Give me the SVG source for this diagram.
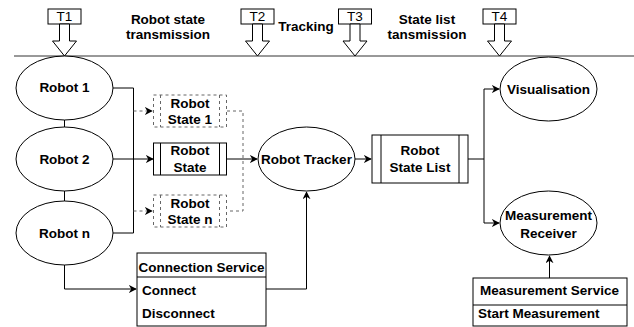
<svg xmlns="http://www.w3.org/2000/svg" width="634" height="327" viewBox="0 0 634 327">
  <defs>
    <marker id="arrow" viewBox="0 0 10 10" refX="9" refY="5" markerWidth="8" markerHeight="8" markerUnits="userSpaceOnUse" orient="auto">
      <path d="M0,0 L10,5 L0,10 L3,5 Z" fill="#000"/>
    </marker>
    <marker id="arrow-dash" viewBox="0 0 10 10" refX="9" refY="5" markerWidth="8" markerHeight="8" markerUnits="userSpaceOnUse" orient="auto">
      <path d="M0,0 L10,5 L0,10 L3,5 Z" fill="#000"/>
    </marker>
  </defs>
  <style>
    text { font-family: "Liberation Sans", Arial, sans-serif; font-size: 13.5px; fill: #000; }
    .b { font-weight: bold; }
    .c { text-anchor: middle; }
    .shape { fill: #fff; stroke: #000; stroke-width: 1; }
    .dash { fill: #fff; stroke: #666; stroke-width: 1; stroke-dasharray: 3 3; }
    .line { fill: none; stroke: #000; stroke-width: 1; }
    .dline { fill: none; stroke: #666; stroke-width: 1; stroke-dasharray: 3 3; }
    .tick { fill: #fff; stroke: #000; stroke-width: 1; }
  </style>

  <!-- timeline -->
  <g id="timeline">
    <line x1="14" y1="56" x2="634" y2="56" stroke="#333" stroke-width="1"/>
    <text class="b c" x="168" y="24">Robot state</text>
    <text class="b c" x="168" y="39">transmission</text>
    <text class="b c" x="306" y="31">Tracking</text>
    <text class="b c" x="427" y="24">State list</text>
    <text class="b c" x="427" y="39">tansmission</text>
  </g>

  <g id="t1">
    <rect class="tick" x="48" y="9" width="33" height="15"/>
    <text class="c" x="64.5" y="21">T1</text>
    <path class="tick" d="M59.5,24 V41 H52.5 L64.5,56 L76.5,41 H69.5 V24 Z"/>
  </g>
  <g id="t2">
    <rect class="tick" x="241" y="9" width="33" height="15"/>
    <text class="c" x="257.5" y="21">T2</text>
    <path class="tick" d="M252.5,24 V41 H245.5 L257.5,56 L269.5,41 H262.5 V24 Z"/>
  </g>
  <g id="t3">
    <rect class="tick" x="338.5" y="9" width="33" height="15"/>
    <text class="c" x="355" y="21">T3</text>
    <path class="tick" d="M350,24 V41 H343 L355,56 L367,41 H360 V24 Z"/>
  </g>
  <g id="t4">
    <rect class="tick" x="483" y="9" width="33" height="15"/>
    <text class="c" x="499.5" y="21">T4</text>
    <path class="tick" d="M494.5,24 V41 H487.5 L499.5,56 L511.5,41 H504.5 V24 Z"/>
  </g>

  <!-- connectors -->
  <g id="connectors">
    <line class="line" x1="64.5" y1="120" x2="64.5" y2="127"/>
    <line class="line" x1="64.5" y1="191" x2="64.5" y2="201"/>
    <polyline class="line" points="113,88 133.5,88 133.5,233 113,233"/>
    <line class="line" x1="113" y1="159" x2="153" y2="159" marker-end="url(#arrow)"/>
    <line class="dline" x1="133.5" y1="111" x2="152" y2="111" marker-end="url(#arrow-dash)"/>
    <line class="dline" x1="133.5" y1="211" x2="152" y2="211" marker-end="url(#arrow-dash)"/>
    <polyline class="dline" points="227,111 243,111 243,211 227,211"/>
    <line class="line" x1="227" y1="159" x2="257" y2="159" marker-end="url(#arrow)"/>
    <line class="line" x1="355" y1="159" x2="371" y2="159" marker-end="url(#arrow)"/>
    <polyline class="line" points="64.5,265 64.5,289 136,289" marker-end="url(#arrow)"/>
    <polyline class="line" points="266,289 306.5,289 306.5,192" marker-end="url(#arrow)"/>
    <polyline class="line" points="468,159 484,159 484,89 499,89" marker-end="url(#arrow)"/>
    <polyline class="line" points="484,159 484,223 499,223" marker-end="url(#arrow)"/>
    <line class="line" x1="549.5" y1="278" x2="549.5" y2="256" marker-end="url(#arrow)"/>
  </g>

  <!-- robots -->
  <g id="robot-1">
    <ellipse class="shape" cx="64.5" cy="88" rx="48.5" ry="32"/>
    <text class="b c" x="64.5" y="92">Robot 1</text>
  </g>
  <g id="robot-2">
    <ellipse class="shape" cx="64.5" cy="159" rx="48.5" ry="32"/>
    <text class="b c" x="64.5" y="163.5">Robot 2</text>
  </g>
  <g id="robot-n">
    <ellipse class="shape" cx="64.5" cy="233" rx="48.5" ry="32"/>
    <text class="b c" x="64.5" y="237.5">Robot n</text>
  </g>

  <!-- robot state messages -->
  <g id="robot-state-1">
    <rect class="dash" x="153.5" y="95" width="73" height="32"/>
    <line class="dline" x1="160.5" y1="95" x2="160.5" y2="127"/>
    <line class="dline" x1="219.5" y1="95" x2="219.5" y2="127"/>
    <text class="b c" x="190" y="107.5">Robot</text>
    <text class="b c" x="190" y="124">State 1</text>
  </g>
  <g id="robot-state">
    <rect class="shape" x="153.5" y="143" width="73" height="32"/>
    <line class="line" x1="160.5" y1="143" x2="160.5" y2="175"/>
    <line class="line" x1="219.5" y1="143" x2="219.5" y2="175"/>
    <text class="b c" x="190" y="155">Robot</text>
    <text class="b c" x="190" y="172">State</text>
  </g>
  <g id="robot-state-n">
    <rect class="dash" x="153.5" y="195" width="73" height="32"/>
    <line class="dline" x1="160.5" y1="195" x2="160.5" y2="227"/>
    <line class="dline" x1="219.5" y1="195" x2="219.5" y2="227"/>
    <text class="b c" x="190" y="207.5">Robot</text>
    <text class="b c" x="190" y="224">State n</text>
  </g>

  <g id="robot-tracker">
    <ellipse class="shape" cx="306.5" cy="159" rx="48.5" ry="32"/>
    <text class="b c" x="306.5" y="164">Robot Tracker</text>
  </g>

  <g id="robot-state-list">
    <rect class="shape" x="372" y="135" width="96" height="48"/>
    <line class="line" x1="381" y1="135" x2="381" y2="183"/>
    <line class="line" x1="459" y1="135" x2="459" y2="183"/>
    <text class="b c" x="420" y="155">Robot</text>
    <text class="b c" x="420" y="172">State List</text>
  </g>

  <g id="visualisation">
    <ellipse class="shape" cx="548.5" cy="89" rx="48.5" ry="32"/>
    <text class="b c" x="548.5" y="93.5">Visualisation</text>
  </g>

  <g id="measurement-receiver">
    <ellipse class="shape" cx="548.5" cy="223" rx="48.5" ry="32"/>
    <text class="b c" x="548.5" y="220">Measurement</text>
    <text class="b c" x="548.5" y="237.5">Receiver</text>
  </g>

  <g id="connection-service">
    <rect class="shape" x="137" y="253" width="129" height="73"/>
    <line class="line" x1="137" y1="277" x2="266" y2="277"/>
    <text class="b c" x="201.5" y="271.5">Connection Service</text>
    <text class="b" x="142" y="295">Connect</text>
    <text class="b" x="142" y="318">Disconnect</text>
  </g>

  <g id="measurement-service">
    <rect class="shape" x="473" y="278" width="154" height="48"/>
    <line class="line" x1="473" y1="305" x2="627" y2="305"/>
    <text class="b c" x="549.5" y="295">Measurement Service</text>
    <text class="b" x="478" y="318">Start Measurement</text>
  </g>
</svg>
